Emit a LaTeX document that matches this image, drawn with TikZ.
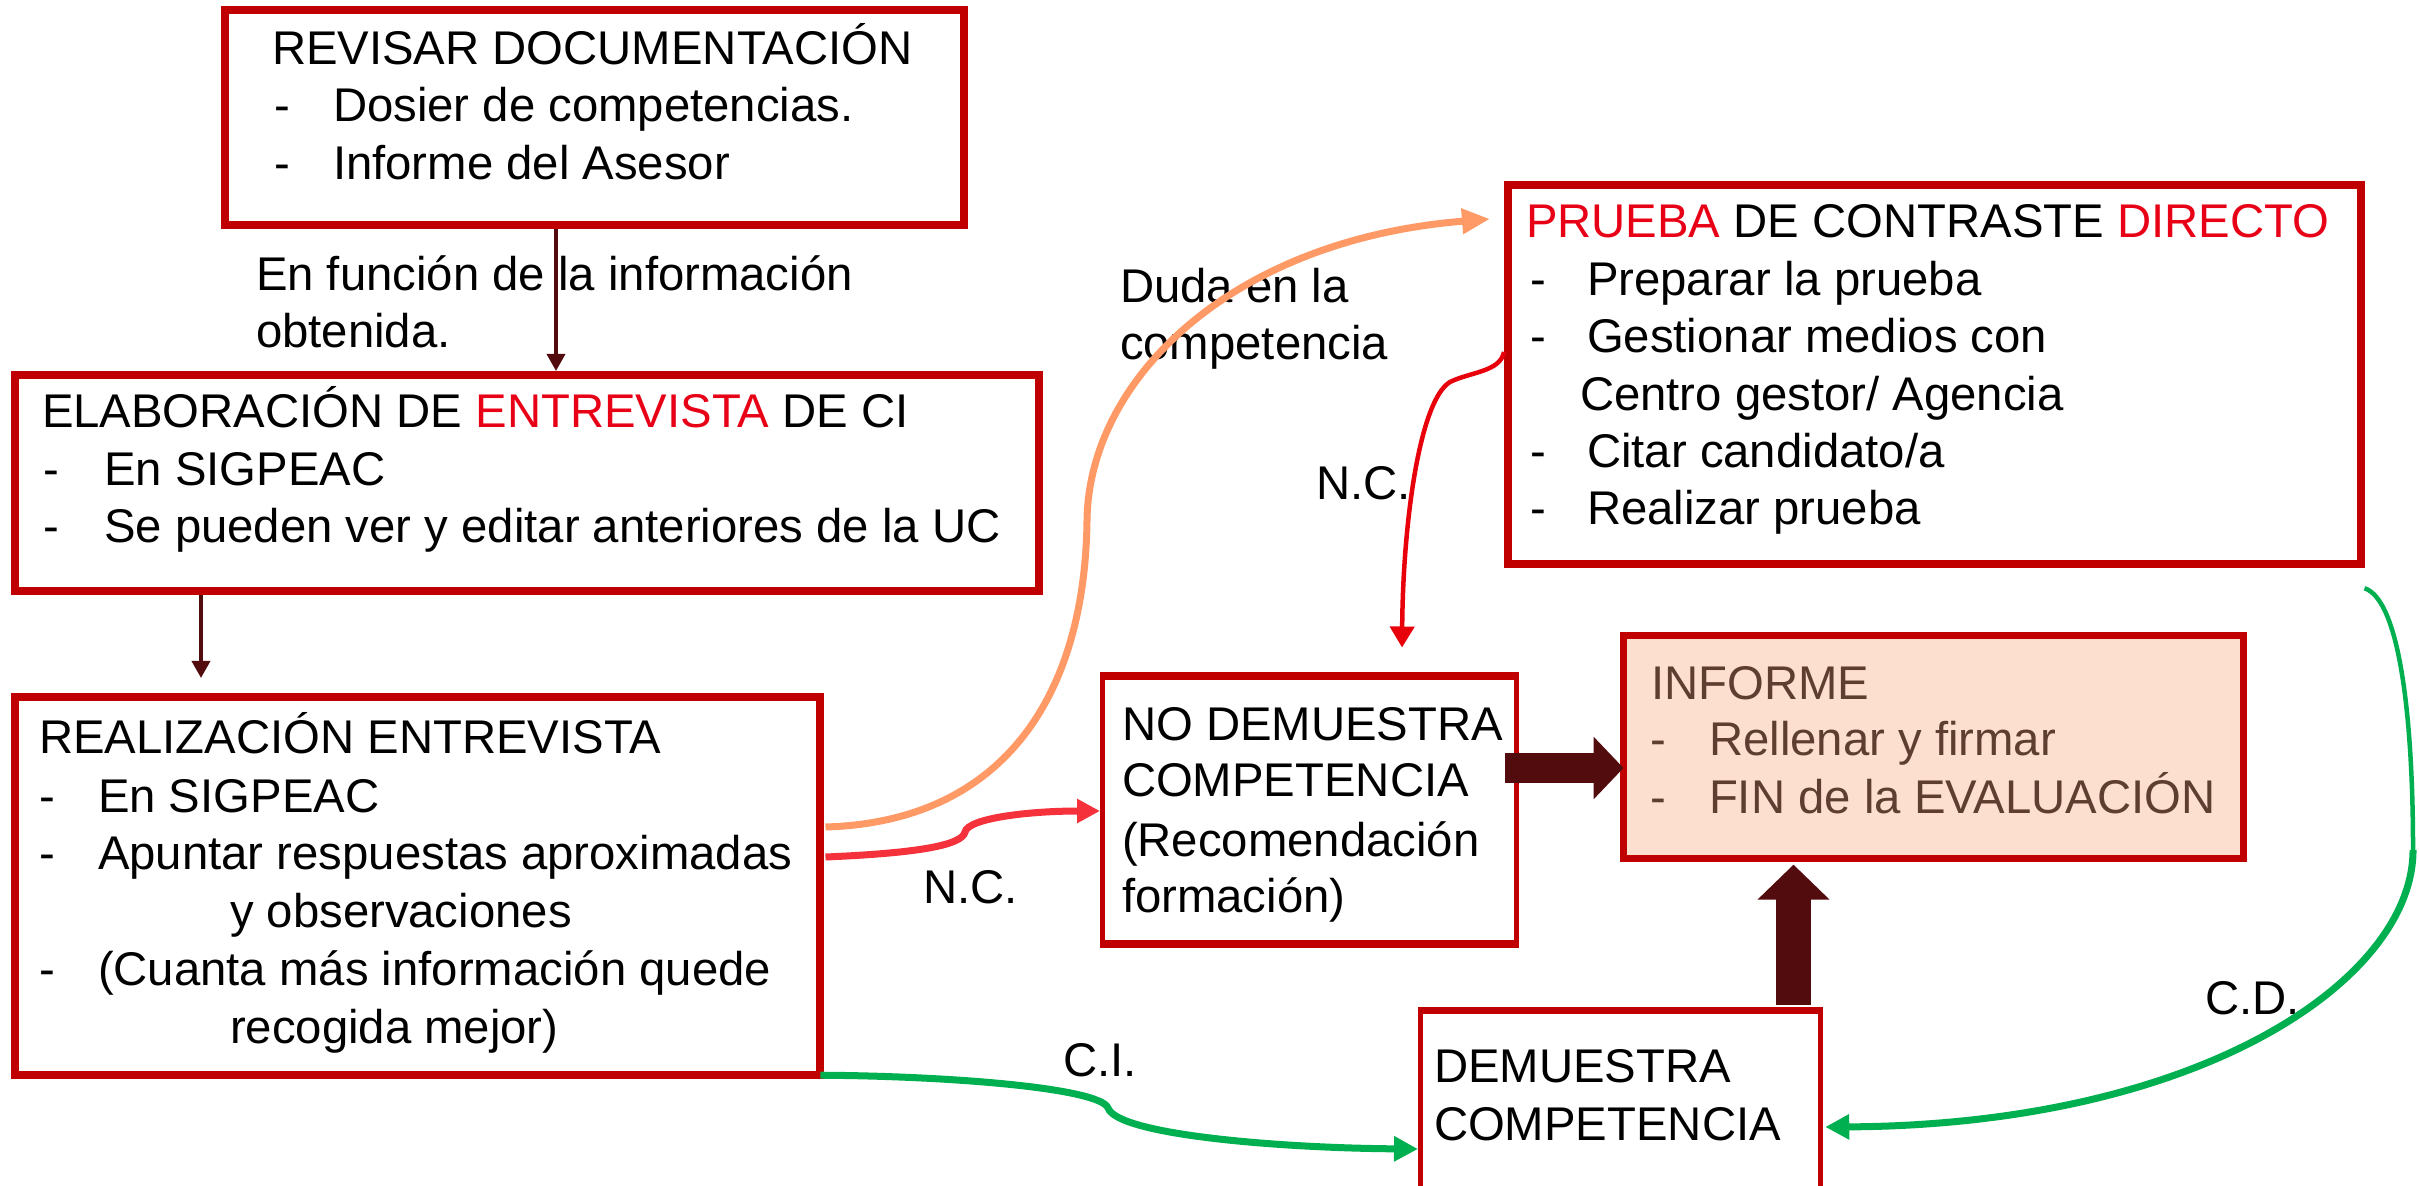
\documentclass[tikz,border=0pt]{standalone}
\usepackage{fontspec}
\setmainfont{Liberation Sans}
\usetikzlibrary{arrows.meta,calc}
\definecolor{boxred}{RGB}{192,0,0}
\definecolor{txtred}{RGB}{232,0,22}
\definecolor{maroonc}{RGB}{82,12,14}
\definecolor{peach}{RGB}{253,223,208}
\definecolor{brownt}{RGB}{94,62,48}
\definecolor{orangec}{RGB}{255,153,102}
\definecolor{redc}{RGB}{245,50,60}
\definecolor{redd}{RGB}{232,0,10}
\definecolor{greenc}{RGB}{0,176,80}
\begin{document}
\begin{tikzpicture}[x=0.01cm,y=-0.01cm,
  box/.style={draw=boxred, line width=0.08cm, outer sep=0pt, inner sep=0pt, anchor=north west},
  thinbox/.style={draw=boxred, line width=0.05cm, outer sep=0pt, inner sep=0pt, anchor=north west},
  tx/.style={inner sep=0pt, outer sep=0pt, anchor=base west, font=\fontsize{13.45pt}{16pt}\selectfont},
  thinarrow/.style={draw=maroonc, line width=0.035cm, -{Triangle[length=0.17cm,width=0.18cm]}},
  orangeline/.style={draw=orangec, line width=0.07cm, -{Triangle[length=0.28cm,width=0.24cm]}},
  redline/.style={draw=redc, line width=0.07cm, -{Triangle[length=0.23cm,width=0.23cm]}},
  reddline/.style={draw=redd, line width=0.045cm, -{Triangle[length=0.21cm,width=0.24cm]}},
  greenline/.style={draw=greenc, line width=0.07cm, -{Triangle[length=0.24cm,width=0.24cm]}},
  fatH/.style={draw=maroonc, line width=0.30cm, -{Triangle[length=0.30cm,width=0.61cm]}},
  fatV/.style={draw=maroonc, line width=0.35cm, -{Triangle[length=0.35cm,width=0.70cm]}}
]
\fill[white] (0,0) rectangle (2419,1186);
\useasboundingbox (0,0) rectangle (2419,1186);

% boxes
\node[box, minimum width=7.39cm, minimum height=2.15cm] (b1) at (225,10) {};
\node[box, minimum width=10.23cm, minimum height=2.16cm] (b2) at (15,375) {};
\node[box, minimum width=8.05cm, minimum height=3.78cm] (b3) at (15,697) {};
\node[box, minimum width=8.52cm, minimum height=3.79cm] (b4) at (1508,185) {};
\node[thinbox, minimum width=4.14cm, minimum height=2.71cm] (b5) at (1102.5,674.5) {};
\draw[boxred, line width=0.08cm] ($(b5.north west)+(-2.5,1.5)$) -- ($(b5.north east)+(2.5,1.5)$);
\draw[boxred, line width=0.08cm] ($(b5.south west)+(-2.5,-1.5)$) -- ($(b5.south east)+(2.5,-1.5)$);
\node[box, fill=peach, line width=0.07cm, minimum width=6.20cm, minimum height=2.23cm] (b6) at (1623.5,635.5) {};
\node[thinbox, minimum width=4.00cm, minimum height=1.95cm] (b7) at (1420.5,1009.5) {};
\draw[boxred, line width=0.07cm] ($(b7.north west)+(-2.5,0.5)$) -- ($(b7.north east)+(2.5,0.5)$);

% box texts
\node[tx] (t1a) at (272,65) {REVISAR DOCUMENTACIÓN};
\node[tx] (t1b) at (274,122) {\makebox[0.59cm][l]{-}Dosier de competencias.};
\node[tx] (t1c) at (274,180) {\makebox[0.59cm][l]{-}Informe del Asesor};

\node[tx] (t2a) at (42,428) {ELABORACIÓN DE \textcolor{txtred}{ENTREVISTA} DE CI};
\node[tx] (t2b) at (43,486) {\makebox[0.61cm][l]{-}En SIGPEAC};
\node[tx] (t2c) at (43,543) {\makebox[0.61cm][l]{-}Se pueden ver y editar anteriores de la UC};

\node[tx] (t3a) at (39,754) {REALIZACIÓN ENTREVISTA};
\node[tx] (t3b) at (39,812) {\makebox[0.59cm][l]{-}En SIGPEAC};
\node[tx] (t3c) at (39,869) {\makebox[0.59cm][l]{-}Apuntar respuestas aproximadas};
\node[tx] (t3d) at (230,927) {y observaciones};
\node[tx] (t3e) at (39,985) {\makebox[0.59cm][l]{-}(Cuanta más información quede};
\node[tx] (t3f) at (230,1043) {recogida mejor)};

\node[tx] (t4a) at (1526,238) {\textcolor{txtred}{PRUEBA} DE CONTRASTE \textcolor{txtred}{DIRECTO}};
\node[tx] (t4b) at (1530,296) {\makebox[0.57cm][l]{-}Preparar la prueba};
\node[tx] (t4c) at (1530,353) {\makebox[0.57cm][l]{-}Gestionar medios con};
\node[tx] (t4d) at (1580,411) {Centro gestor/ Agencia};
\node[tx] (t4e) at (1530,468) {\makebox[0.57cm][l]{-}Citar candidato/a};
\node[tx] (t4f) at (1530,525) {\makebox[0.57cm][l]{-}Realizar prueba};

\node[tx] (t5a) at (1122,741) {NO DEMUESTRA};
\node[tx] (t5b) at (1122,797) {COMPETENCIA};
\node[tx] (t5c) at (1122,856) {(Recomendación};
\node[tx] (t5d) at (1122,912) {formación)};

\node[tx, text=brownt] (t6a) at (1651,699) {INFORME};
\node[tx, text=brownt] (t6b) at (1650,755) {\makebox[0.59cm][l]{-}Rellenar y firmar};
\node[tx, text=brownt] (t6c) at (1650,814) {\makebox[0.59cm][l]{-}FIN de la EVALUACIÓN};

\node[tx] (t7a) at (1434,1082) {DEMUESTRA};
\node[tx] (t7b) at (1434,1140) {COMPETENCIA};

% labels
\node[tx] (l1a) at (256,291) {En función de la información};
\node[tx] (l1b) at (256,348) {obtenida.};
\node[tx] (l2a) at (1120,303) {Duda en la};
\node[tx] (l2b) at (1120,360) {competencia};
\node[tx] (l3) at (923,903) {N.C.};
\node[tx] (l4) at (1316,500) {N.C.};
\node[tx] (l5) at (1063,1076) {C.I.};
\node[tx] (l6) at (2205,1014) {C.D.};

% helper coordinates
\coordinate (x12) at (556,0);
\coordinate (c23) at (201,678);
\coordinate (yo) at (0,827);
\coordinate (oe) at (1490,219);
\coordinate (ya) at (0,857);
\coordinate (yb) at (0,811);
\coordinate (yc) at (0,352);
\coordinate (xc) at (1402,0);
\coordinate (yd) at (0,1149);
\coordinate (ye) at (0,1127);
\coordinate (yh) at (0,768);
\coordinate (xv) at (1793.5,0);

% connectors
\draw[thinarrow] ($(b1.south -| x12)+(0,4)$) -- ($(b2.north -| x12)+(0,-4)$);
\draw[thinarrow] ($(b2.south -| c23)+(0,4)$) -- (c23);

\draw[orangeline] ($(b3.east |- yo)+(5,0)$) .. controls (1000,822) and (1085,700) .. (1087,520)
  .. controls (1089,380) and (1230,240) .. (oe);

\draw[redline] ($(b3.east |- ya)+(5,0)$) .. controls (920,853) and (962,845) .. (965,832)
  .. controls (968,818) and (1030,811) .. ($(b5.west |- yb)+(-2.5,0)$);

\draw[reddline] ($(b4.west |- yc)+(-4,0)$) .. controls (1500,372) and (1470,372) .. (1450,382)
  .. controls (1420,400) and (1403,520) .. ($(b5.north -| xc)+(0,-27)$);

\draw[greenline] (b3.south east) .. controls (950,1076) and (1100,1088) .. (1108,1108)
  .. controls (1118,1135) and (1280,1148) .. ($(b7.west |- yd)+(-2.5,0)$);

\draw[draw=greenc, line width=0.045cm] ($(b4.south east)+(4,24)$) .. controls (2400,600) and (2413,720) .. (2413,850);
\draw[greenline] (2413,850) .. controls (2413,980) and (2200,1125) .. ($(b7.east |- ye)+(4.5,0)$);

\draw[fatH] ($(b5.east |- yh)+(-12,0)$) -- (b6.west |- yh);
\draw[fatV] ($(b7.north -| xv)+(0,-5)$) -- ($(b6.south -| xv)+(0,6)$);
\end{tikzpicture}
\end{document}
